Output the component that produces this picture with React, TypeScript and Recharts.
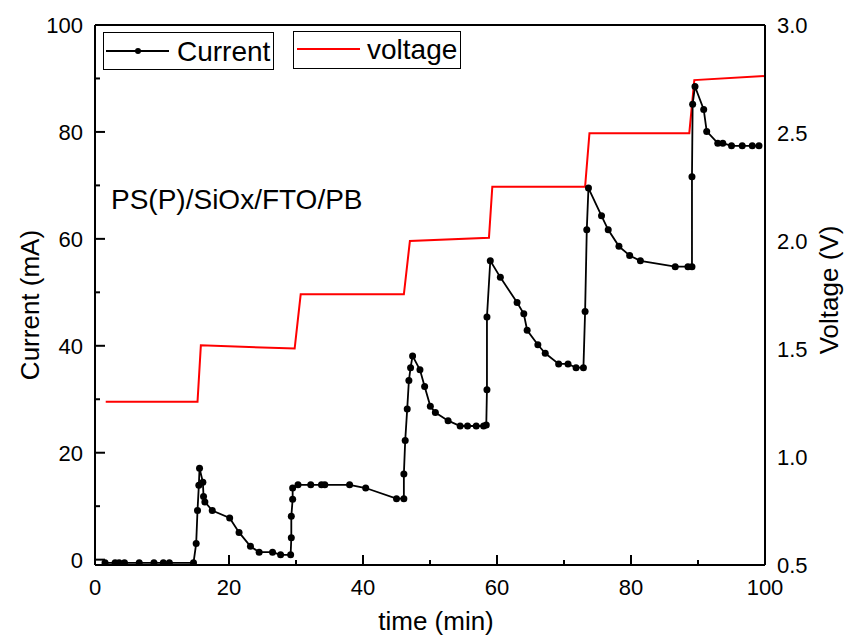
import React from "react";
import { LineChart, Line, XAxis, YAxis, ReferenceLine, Legend } from "recharts";

// ---- data ----
const currentTime = [
  1.5, 3.0, 3.6, 4.4, 6.6, 8.8, 10.2, 11.1, 14.7,
  15.1, 15.3, 15.5, 15.6, 16.1, 16.2, 16.4, 17.5, 20.1, 21.5, 23.2, 24.5, 26.5, 27.7, 29.2,
  29.3, 29.3, 29.5, 29.5, 30.3, 32.2, 33.8, 34.3, 38.0, 40.4, 45.0, 46.1,
  46.1, 46.3, 46.6, 46.85, 47.1, 47.4, 48.5, 49.2, 50.05, 50.8, 52.7, 54.5, 55.6, 56.9, 58.0, 58.4,
  58.5, 58.5, 59.0, 60.5, 63.0, 64.0, 64.5, 66.1, 67.2, 69.2, 70.6, 71.8, 72.9,
  73.15, 73.4, 73.65, 75.6, 76.6, 78.2, 79.8, 81.4, 86.6, 88.5, 89.1,
  89.1, 89.2, 89.55, 90.85, 91.3, 92.95, 93.7, 95.0, 96.6, 98.1, 99.1,
];
const currentMA = [
  -0.6, -0.6, -0.6, -0.6, -0.6, -0.6, -0.6, -0.6, -0.6,
  3.0, 9.2, 13.9, 17.1, 14.5, 11.8, 10.8, 9.2, 7.8, 5.1, 2.5, 1.4, 1.4, 0.9, 0.9,
  4.1, 8.1, 11.3, 13.4, 14.0, 14.0, 14.0, 14.0, 14.0, 13.4, 11.4, 11.4,
  16.0, 22.3, 28.2, 33.5, 35.9, 38.1, 35.5, 32.4, 28.7, 27.5, 26.0, 25.0, 25.0, 25.0, 25.0, 25.2,
  31.8, 45.4, 55.9, 52.8, 48.1, 46.0, 42.9, 40.2, 38.6, 36.6, 36.6, 35.9, 35.9,
  46.4, 61.7, 69.5, 64.3, 61.7, 58.6, 56.9, 55.9, 54.8, 54.8, 54.8,
  71.6, 85.2, 88.5, 84.2, 80.1, 77.9, 77.9, 77.4, 77.4, 77.4, 77.4,
];
const voltageTime = [1.6, 15.3, 15.8, 29.8, 30.7, 46.1, 47.0, 58.8, 59.3, 73.15, 73.8, 88.7, 89.45, 100];
const voltageV = [1.256, 1.256, 1.517, 1.502, 1.753, 1.753, 2.0, 2.015, 2.251, 2.251, 2.499, 2.499, 2.745, 2.764];

const xTicks = [0, 10, 20, 30, 40, 50, 60, 70, 80, 90, 100];
const xMajorTicks = [0, 20, 40, 60, 80, 100];
const leftTicks = [0, 10, 20, 30, 40, 50, 60, 70, 80, 90, 100];
const leftMajorTicks = [0, 20, 40, 60, 80, 100];
const rightTicks = [0.5, 1.0, 1.5, 2.0, 2.5, 3.0];

const seriesNames = ["Current", "voltage"];
const annotationText = "PS(P)/SiOx/FTO/PB";
const xTitle = "time (min)";
const leftTitle = "Current (mA)";
const rightTitle = "Voltage (V)";

const currentData = currentTime.map((t, i) => ({ t, c: currentMA[i] }));
const voltageData = voltageTime.map((t, i) => ({ t, v: voltageV[i] }));

const FONT = "'Liberation Sans', Arial, Helvetica, sans-serif";
const TICK_FS = 22;

const LeftTick = (props: any) => {
  const { x, y, payload } = props;
  const v = payload.value;
  const major = leftMajorTicks.includes(v);
  return (
    <g>
      <line x1={x} x2={x + (major ? 10 : 5)} y1={y} y2={y} stroke="#000" strokeWidth={2} />
      {major && (
        <text x={x - 12} y={y} dy="0.36em" textAnchor="end" fontSize={TICK_FS} fontFamily={FONT} fill="#000">
          {v}
        </text>
      )}
    </g>
  );
};

const BottomTick = (props: any) => {
  const { x, y, payload } = props;
  const v = payload.value;
  const major = xMajorTicks.includes(v);
  return (
    <g>
      <line x1={x} x2={x} y1={y} y2={y - (major ? 10 : 5)} stroke="#000" strokeWidth={2} />
      {major && (
        <text x={x} y={y + 30} textAnchor="middle" fontSize={TICK_FS} fontFamily={FONT} fill="#000">
          {v}
        </text>
      )}
    </g>
  );
};

const RightTick = (props: any) => {
  const { x, y, payload } = props;
  return (
    <text x={x + 12} y={y} dy="0.36em" textAnchor="start" fontSize={TICK_FS} fontFamily={FONT} fill="#000">
      {Number(payload.value).toFixed(1)}
    </text>
  );
};

const Overlay = () => (
  <svg width={845} height={637} style={{ display: "block", pointerEvents: "none" }} fontFamily={FONT}>
    {/* legend box 1 */}
    <rect x={103.5} y={32.5} width={170} height={37} fill="#fff" stroke="#000" strokeWidth={1} />
    <line x1={106} x2={169} y1={51} y2={51} stroke="#000" strokeWidth={2} />
    <circle cx={138} cy={51} r={3} fill="#000" />
    <text x={177} y={51} dy="0.36em" fontSize={28} fill="#000">{seriesNames[0]}</text>
    {/* legend box 2 */}
    <rect x={293.5} y={31.5} width={167} height={37} fill="#fff" stroke="#000" strokeWidth={1} />
    <line x1={297} x2={360} y1={49} y2={49} stroke="#ff0000" strokeWidth={2} />
    <text x={367} y={49} dy="0.36em" fontSize={28} fill="#000">{seriesNames[1]}</text>
    {/* annotation */}
    <text x={111} y={209} fontSize={28} fill="#000">{annotationText}</text>
    {/* axis titles */}
    <text x={436} y={630} textAnchor="middle" fontSize={26} fill="#000">{xTitle}</text>
    <text x={0} y={0} transform="translate(39,305) rotate(-90)" textAnchor="middle" fontSize={26} fill="#000">{leftTitle}</text>
    <text x={0} y={0} transform="translate(838,290) rotate(-90)" textAnchor="middle" fontSize={26} fill="#000">{rightTitle}</text>
  </svg>
);

export default function App() {
  return (
    <div style={{ position: "absolute", left: 0, top: 0, width: 845, height: 637, background: "#fff" }}>
      <LineChart width={845} height={637} margin={{ top: 25, right: 0, bottom: 0, left: 0 }}>
        <XAxis
          dataKey="t"
          type="number"
          domain={[0, 100]}
          ticks={xTicks}
          interval={0}
          height={72}
          tickSize={0}
          tickMargin={0}
          tickLine={false}
          axisLine={{ stroke: "#000", strokeWidth: 2 }}
          tick={<BottomTick />}
          allowDataOverflow
        />
        <YAxis
          yAxisId="left"
          type="number"
          domain={[-1, 100]}
          ticks={leftTicks}
          interval={0}
          width={95}
          tickSize={0}
          tickMargin={0}
          tickLine={false}
          axisLine={{ stroke: "#000", strokeWidth: 2 }}
          tick={<LeftTick />}
          allowDataOverflow
        />
        <YAxis
          yAxisId="right"
          orientation="right"
          type="number"
          domain={[0.5, 3.0]}
          ticks={rightTicks}
          interval={0}
          width={80}
          tickSize={0}
          tickMargin={0}
          tickLine={false}
          axisLine={{ stroke: "#000", strokeWidth: 2 }}
          tick={<RightTick />}
          allowDataOverflow
        />
        <ReferenceLine yAxisId="left" y={100} stroke="#000" strokeWidth={2} />
        <Line
          yAxisId="right"
          data={voltageData}
          dataKey="v"
          name={seriesNames[1]}
          stroke="#ff0000"
          strokeWidth={2}
          dot={false}
          isAnimationActive={false}
          type="linear"
        />
        <Line
          yAxisId="left"
          data={currentData}
          dataKey="c"
          name={seriesNames[0]}
          stroke="#000"
          strokeWidth={1.8}
          dot={{ r: 3.5, fill: "#000", stroke: "#000", strokeWidth: 0 }}
          isAnimationActive={false}
          type="linear"
        />
        <Legend
          layout="horizontal"
          verticalAlign="middle"
          align="center"
          content={() => <Overlay />}
          wrapperStyle={{ position: "absolute", left: 0, top: 0, width: 845, height: 637, pointerEvents: "none" }}
        />
      </LineChart>
    </div>
  );
}
